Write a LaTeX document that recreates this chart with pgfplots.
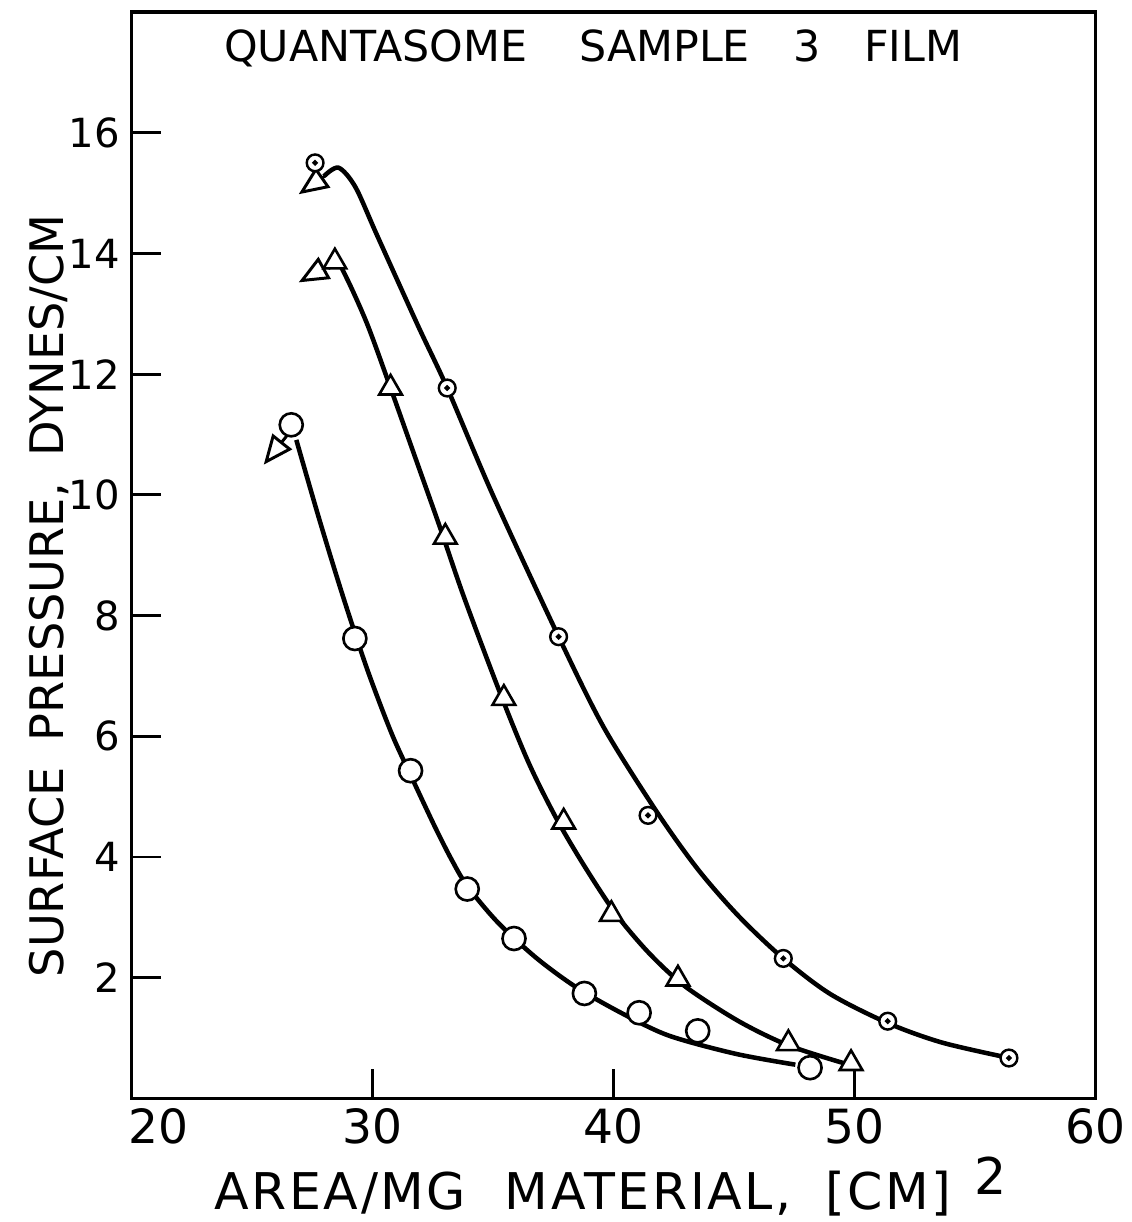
\documentclass[border=0pt]{standalone}
\usepackage{fontspec}
\setmainfont{DejaVu Sans}
\usepackage{pgfplots}
\pgfplotsset{compat=1.18}
\usetikzlibrary{arrows.meta}

% circle with a small dot in the middle
\pgfdeclareplotmark{dotcirc}{%
  \pgfpathcircle{\pgfpointorigin}{\pgfplotmarksize}\pgfusepathqfillstroke
  \pgfpathcircle{\pgfpointorigin}{0.18\pgfplotmarksize}\pgfusepathqstroke}

\tikzset{startarrow/.style={black, line width=1.7pt,
  -{Triangle[open, length=0.6cm, width=0.5cm]}}}

\begin{document}
\begin{tikzpicture}
\begin{axis}[
    scale only axis,
    width=19.42cm, height=21.88cm,
    xmin=20, xmax=60, ymin=0, ymax=18,
    xtick={20,30,40,50,60},
    xticklabels={\hspace*{1.1cm}20,30,40,50,60},
    ytick={2,4,6,8,10,12,14,16},
    xtick pos=bottom, ytick pos=left,
    tick align=inside,
    major tick length=0.6cm,
    axis line style={line width=1.8pt},
    tick style={line width=1.6pt, black},
    /pgf/number format/assume math mode=true,
    xticklabel style={font=\fontsize{27}{30}\selectfont, yshift=-2pt},
    yticklabel style={font=\fontsize{23}{27}\selectfont, xshift=-3pt},
    xlabel={AREA/MG\hspace{0.4em} MATERIAL,\hspace{0.3em} [CM]\hspace{0.45em}\raisebox{0.3em}{2}},
    ylabel={SURFACE\hspace{0.25em} PRESSURE,\hspace{0.25em} DYNES/CM},
    xlabel style={font=\fontsize{29}{32}\selectfont\addfontfeature{LetterSpace=5},
      at={(axis description cs:0.497,-0.081)}, anchor=center},
    ylabel style={font=\fontsize{26.5}{30}\selectfont, at={(axis description cs:-0.085,0.4625)}, anchor=center},
    title={QUANTASOME\hspace{0.9em} SAMPLE\hspace{0.7em} 3\hspace{0.7em} FILM},
    title style={font=\fontsize{24.5}{28}\selectfont, at={(axis description cs:0.479,1)}, anchor=north, yshift=-0.45cm},
    clip=false,
]
% page frame, same proportions as the reference
\path (rel axis cs:-0.136,1.011) (rel axis cs:1.030,-0.106);

% fitted curves
\addplot[black, line width=2.6pt, smooth] coordinates {
  (28.0,15.28) (28.6,15.42) (29.3,15.1) (30.2,14.3) (31.9,12.8)
  (33.11,11.77) (35.0,10.0) (37.73,7.65) (39.6,6.15) (41.8,4.75)
  (43.5,3.80) (45.2,3.02) (47.05,2.32) (49.0,1.73) (51.38,1.25)
  (53.6,0.93) (56.2,0.69)
};
\addplot[black, line width=2.6pt, smooth] coordinates {
  (28.16,13.74) (28.45,13.93) (28.99,13.55) (29.81,12.81) (30.76,11.77)
  (31.8,10.6) (32.82,9.45) (33.81,8.3) (35.3,6.72) (36.5,5.55)
  (37.65,4.63) (38.8,3.85) (40.12,3.05) (41.5,2.4) (43.0,1.85)
  (45.2,1.28) (47.26,0.88) (49.6,0.58)
};
\addplot[black, line width=2.6pt, smooth] coordinates {
  (26.85,10.91) (27.8,9.6) (28.8,8.3) (29.8,7.1) (30.8,6.05)
  (31.6,5.35) (32.6,4.50) (33.3,3.95) (33.94,3.52) (35.2,2.92)
  (36.8,2.33) (38.47,1.84) (40.41,1.40) (42.31,1.04) (45.07,0.74)
  (47.55,0.56)
};

% arrows at the start of each curve
\addplot[startarrow] coordinates {(28.1,15.30) (26.95,14.98)};
\addplot[startarrow] coordinates {(28.16,13.79) (26.95,13.52)};
\addplot[startarrow] coordinates {(26.5,11.00) (25.5,10.5)};

% measured points
\addplot[only marks, mark=dotcirc, mark size=4.8pt,
  mark options={line width=1.4pt, fill=white, draw=black}] coordinates {
  (27.63,15.50) (33.11,11.77) (37.73,7.65) (41.44,4.69) (47.05,2.32)
  (51.38,1.28) (56.41,0.67)
};
\addplot[only marks, mark=triangle*, mark size=7.5pt,
  mark options={line width=1.5pt, fill=white, draw=black}] coordinates {
  (28.45,13.86) (30.76,11.77) (33.03,9.30) (35.46,6.63) (37.94,4.58)
  (39.92,3.05) (42.68,1.98) (47.26,0.91) (49.86,0.58)
};
\addplot[only marks, mark=*, mark size=6.6pt,
  mark options={line width=1.5pt, fill=white, draw=black}] coordinates {
  (26.64,11.16) (29.28,7.62) (31.59,5.43) (33.94,3.47) (35.88,2.65)
  (38.8,1.74) (41.07,1.42) (43.5,1.12) (48.16,0.51)
};

\end{axis}
\end{tikzpicture}
\end{document}
